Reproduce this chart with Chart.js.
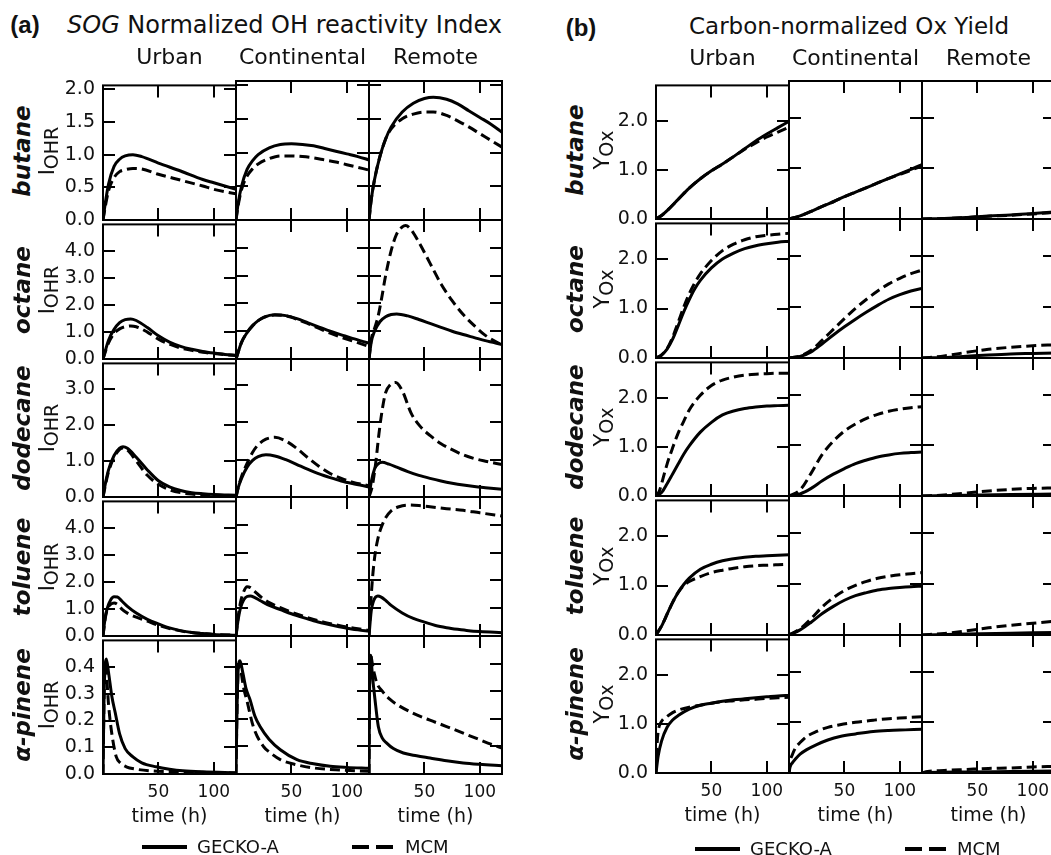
<!DOCTYPE html>
<html><head><meta charset="utf-8">
<script src="https://cdn.jsdelivr.net/npm/chart.js@4.4.1/dist/chart.umd.min.js"></script>
<style>
html,body{margin:0;padding:0;background:#fff;width:1051px;height:855px;overflow:hidden;}
body{position:relative;font-family:"DejaVu Sans",sans-serif;color:#111;}
.t{position:absolute;white-space:nowrap;line-height:1;}
canvas{position:absolute;}
</style></head><body>
<script>
// ---------------- DATA ----------------
const species = ['butane','octane','dodecane','toluene','α-pinene'];
const regimes = ['Urban','Continental','Remote'];
const models = ['GECKO-A','MCM'];
const timeMax = 120;
const timeTicks = [50,100];
const ohrYMax = [2.06,5,3.7,5,0.5];
const ohrYTicks = [[0,0.5,1,1.5,2],[0,1,2,3,4],[0,1,2,3],[0,1,2,3,4],[0,0.1,0.2,0.3,0.4]];
const oxYMax = 2.72;
const oxYTicks = [0,1,2];

// (a) SOG normalized OH reactivity index  [time h, value]
const OHR_butane_urban_GECKO = [[0,0],[2,0.25],[5,0.55],[10,0.82],[15,0.93],[20,0.98],[27,1.0],[35,0.97],[50,0.87],[70,0.75],[90,0.62],[100,0.57],[120,0.47]];
const OHR_butane_urban_MCM = [[0,0],[2,0.2],[5,0.45],[10,0.65],[15,0.74],[20,0.77],[27,0.79],[35,0.78],[50,0.7],[70,0.61],[90,0.52],[100,0.47],[120,0.4]];
const OHR_butane_cont_GECKO = [[0,0],[2,0.25],[5,0.5],[10,0.75],[15,0.88],[20,0.97],[30,1.07],[40,1.12],[50,1.13],[60,1.12],[70,1.1],[80,1.06],[90,1.02],[100,0.98],[110,0.94],[120,0.89]];
const OHR_butane_cont_MCM = [[0,0],[2,0.22],[5,0.45],[10,0.65],[15,0.76],[20,0.83],[30,0.91],[40,0.95],[50,0.95],[60,0.94],[70,0.92],[80,0.89],[90,0.86],[100,0.82],[110,0.78],[120,0.74]];
const OHR_butane_remote_GECKO = [[0,0],[2,0.3],[5,0.6],[10,0.95],[15,1.2],[20,1.38],[30,1.6],[40,1.73],[50,1.8],[58,1.82],[70,1.79],[80,1.72],[90,1.62],[100,1.52],[110,1.42],[120,1.3]];
const OHR_butane_remote_MCM = [[0,0],[2,0.3],[5,0.6],[10,0.95],[15,1.2],[20,1.35],[30,1.5],[40,1.57],[50,1.6],[58,1.6],[70,1.55],[80,1.47],[90,1.38],[100,1.28],[110,1.18],[120,1.08]];

const OHR_octane_urban_GECKO = [[0,0],[5,0.7],[10,1.1],[15,1.35],[20,1.46],[25,1.49],[30,1.43],[40,1.17],[50,0.86],[60,0.63],[70,0.47],[80,0.36],[90,0.28],[100,0.22],[110,0.17],[120,0.14]];
const OHR_octane_urban_MCM = [[0,0],[5,0.6],[10,0.95],[15,1.12],[20,1.2],[25,1.23],[30,1.2],[40,1.0],[50,0.74],[60,0.55],[70,0.41],[80,0.32],[90,0.25],[100,0.2],[110,0.16],[120,0.13]];
const OHR_octane_cont_GECKO = [[0,0],[5,0.6],[10,0.95],[15,1.2],[20,1.38],[25,1.5],[35,1.59],[45,1.56],[55,1.45],[65,1.3],[75,1.15],[85,1.0],[95,0.87],[105,0.74],[120,0.57]];
const OHR_octane_cont_MCM = [[0,0],[5,0.6],[10,0.95],[15,1.2],[20,1.38],[25,1.5],[35,1.58],[45,1.55],[55,1.43],[65,1.27],[75,1.1],[85,0.93],[95,0.78],[105,0.65],[120,0.45]];
const OHR_octane_remote_GECKO = [[0,0],[2,0.6],[5,1.0],[10,1.35],[15,1.52],[20,1.6],[25,1.62],[35,1.55],[45,1.42],[55,1.28],[65,1.14],[75,1.0],[85,0.88],[95,0.77],[105,0.66],[120,0.52]];
const OHR_octane_remote_MCM = [[0,0],[2,0.7],[5,1.1],[8,1.5],[11,2.1],[15,3.0],[20,3.9],[25,4.5],[30,4.75],[33,4.8],[38,4.65],[45,4.2],[55,3.45],[65,2.7],[75,2.1],[85,1.6],[95,1.2],[105,0.85],[120,0.5]];

const OHR_dodecane_urban_GECKO = [[0,0],[2,0.35],[5,0.75],[10,1.15],[15,1.35],[18,1.39],[22,1.35],[30,1.1],[40,0.75],[50,0.45],[60,0.28],[70,0.18],[80,0.12],[90,0.09],[100,0.07],[120,0.05]];
const OHR_dodecane_urban_MCM = [[0,0],[2,0.3],[5,0.7],[10,1.1],[15,1.32],[18,1.36],[22,1.3],[30,1.0],[40,0.6],[50,0.35],[60,0.2],[70,0.12],[80,0.08],[90,0.06],[100,0.05],[120,0.04]];
const OHR_dodecane_cont_GECKO = [[0,0],[2,0.25],[5,0.5],[10,0.8],[15,0.98],[20,1.08],[27,1.13],[35,1.1],[45,1.0],[55,0.87],[65,0.74],[75,0.62],[85,0.52],[95,0.43],[105,0.36],[120,0.27]];
const OHR_dodecane_cont_MCM = [[0,0],[2,0.25],[5,0.55],[10,0.9],[15,1.2],[20,1.4],[27,1.55],[35,1.6],[45,1.5],[55,1.3],[65,1.05],[75,0.82],[85,0.63],[95,0.5],[105,0.4],[120,0.3]];
const OHR_dodecane_remote_GECKO = [[0,0],[2,0.4],[5,0.75],[8,0.88],[12,0.93],[18,0.88],[25,0.8],[35,0.68],[45,0.58],[55,0.5],[65,0.43],[75,0.37],[85,0.32],[95,0.28],[105,0.25],[120,0.21]];
const OHR_dodecane_remote_MCM = [[0,0],[3,0.3],[6,0.9],[9,1.7],[12,2.35],[15,2.8],[19,3.0],[24,3.07],[30,2.85],[38,2.25],[46,1.9],[55,1.65],[65,1.43],[75,1.27],[85,1.13],[95,1.03],[105,0.96],[120,0.87]];

const OHR_toluene_urban_GECKO = [[0,0],[2,0.7],[4,1.05],[7,1.35],[10,1.46],[13,1.45],[17,1.3],[22,1.1],[30,0.85],[40,0.62],[50,0.45],[60,0.3],[70,0.2],[80,0.13],[90,0.09],[100,0.06],[120,0.03]];
const OHR_toluene_urban_MCM = [[0,0],[2,0.65],[4,1.0],[7,1.18],[10,1.23],[13,1.18],[17,1.0],[22,0.85],[30,0.7],[40,0.55],[50,0.4],[60,0.28],[70,0.19],[80,0.13],[90,0.09],[100,0.06],[120,0.03]];
const OHR_toluene_cont_GECKO = [[0,0],[2,0.6],[4,1.0],[7,1.3],[10,1.42],[13,1.44],[17,1.38],[22,1.27],[30,1.1],[40,0.95],[50,0.8],[60,0.67],[70,0.55],[80,0.45],[90,0.36],[100,0.28],[110,0.22],[120,0.17]];
const OHR_toluene_cont_MCM = [[0,0],[2,0.7],[4,1.2],[7,1.6],[10,1.77],[13,1.74],[17,1.6],[22,1.42],[30,1.2],[40,1.02],[50,0.86],[60,0.72],[70,0.6],[80,0.49],[90,0.4],[100,0.32],[110,0.26],[120,0.2]];
const OHR_toluene_remote_GECKO = [[0,0],[2,0.9],[4,1.25],[6,1.4],[8,1.44],[11,1.4],[15,1.28],[20,1.1],[30,0.83],[40,0.63],[50,0.5],[60,0.38],[70,0.3],[80,0.24],[90,0.19],[100,0.16],[120,0.12]];
const OHR_toluene_remote_MCM = [[0,0],[1,0.8],[3,2.0],[5,2.8],[8,3.5],[11,3.9],[15,4.25],[20,4.5],[27,4.65],[35,4.71],[45,4.69],[55,4.65],[70,4.58],[85,4.52],[100,4.43],[120,4.32]];

const OHR_apinene_urban_GECKO = [[0,0],[1,0.3],[2,0.41],[3,0.43],[5,0.38],[8,0.29],[11,0.23],[15,0.15],[20,0.095],[27,0.064],[35,0.042],[48,0.027],[60,0.018],[72,0.012],[90,0.008],[120,0.005]];
const OHR_apinene_urban_MCM = [[0,0],[1,0.3],[2,0.4],[3,0.38],[5,0.26],[8,0.15],[12,0.064],[16,0.04],[21,0.027],[30,0.018],[42,0.012],[60,0.009],[90,0.006],[120,0.004]];
const OHR_apinene_cont_GECKO = [[0,0],[1,0.25],[2,0.38],[3.6,0.41],[6,0.37],[9,0.31],[12.6,0.27],[17,0.21],[21.7,0.172],[30,0.125],[40,0.088],[55,0.052],[70,0.037],[85,0.028],[100,0.024],[120,0.021]];
const OHR_apinene_cont_MCM = [[0,0],[1,0.25],[2,0.38],[3,0.4],[5,0.36],[7,0.31],[9.6,0.27],[15.6,0.172],[24.7,0.1],[30,0.08],[40,0.052],[55,0.033],[70,0.022],[90,0.015],[120,0.01]];
const OHR_apinene_remote_GECKO = [[0,0],[0.5,0.3],[1.5,0.43],[3,0.36],[5.4,0.27],[8.4,0.172],[12,0.13],[16,0.112],[22,0.092],[31,0.076],[43,0.066],[55,0.058],[70,0.048],[85,0.04],[100,0.035],[120,0.03]];
const OHR_apinene_remote_MCM = [[0,0],[0.5,0.3],[1.5,0.43],[3,0.4],[5,0.36],[7,0.33],[12,0.3],[19,0.27],[28,0.245],[40,0.22],[55,0.195],[70,0.172],[85,0.148],[100,0.124],[110,0.108],[120,0.094]];

// (b) Carbon-normalized Ox yield  [time h, value]
const OX_butane_urban_GECKO = [[0,0],[5,0.07],[10,0.17],[20,0.4],[30,0.63],[40,0.82],[50,0.98],[60,1.12],[70,1.27],[80,1.43],[90,1.59],[100,1.73],[110,1.86],[120,1.99]];
const OX_butane_urban_MCM = [[0,0],[5,0.07],[10,0.17],[20,0.4],[30,0.63],[40,0.82],[50,0.98],[60,1.12],[70,1.27],[80,1.42],[90,1.55],[100,1.67],[110,1.77],[120,1.87]];
const OX_butane_cont_GECKO = [[0,0],[10,0.06],[20,0.15],[30,0.25],[40,0.34],[50,0.44],[60,0.53],[70,0.62],[80,0.71],[90,0.8],[100,0.89],[110,0.98],[120,1.07]];
const OX_butane_cont_MCM = [[0,0],[10,0.06],[20,0.15],[30,0.25],[40,0.34],[50,0.44],[60,0.53],[70,0.62],[80,0.71],[90,0.8],[100,0.88],[110,0.96],[120,1.05]];
const OX_butane_remote_GECKO = [[0,0],[20,0.01],[40,0.03],[60,0.06],[80,0.08],[100,0.11],[120,0.14]];
const OX_butane_remote_MCM = [[0,0],[20,0.01],[40,0.03],[60,0.055],[80,0.075],[100,0.1],[120,0.13]];

const OX_octane_urban_GECKO = [[0,0],[5,0.06],[10,0.18],[15,0.38],[20,0.65],[25,0.93],[30,1.18],[35,1.4],[40,1.57],[50,1.82],[60,2.0],[70,2.12],[80,2.21],[90,2.27],[100,2.31],[110,2.34],[120,2.36]];
const OX_octane_urban_MCM = [[0,0],[5,0.06],[10,0.19],[15,0.42],[20,0.72],[25,1.03],[30,1.3],[35,1.52],[40,1.7],[50,1.97],[60,2.17],[70,2.3],[80,2.39],[90,2.45],[100,2.48],[110,2.5],[120,2.52]];
const OX_octane_cont_GECKO = [[0,0],[10,0.03],[20,0.12],[30,0.28],[40,0.45],[50,0.61],[60,0.76],[70,0.9],[80,1.03],[90,1.15],[100,1.24],[110,1.31],[120,1.36]];
const OX_octane_cont_MCM = [[0,0],[10,0.04],[20,0.15],[30,0.35],[40,0.56],[50,0.77],[60,0.97],[70,1.15],[80,1.31],[90,1.45],[100,1.56],[110,1.65],[120,1.72]];
const OX_octane_remote_GECKO = [[0,0],[20,0.01],[40,0.035],[60,0.06],[80,0.08],[100,0.09],[120,0.1]];
const OX_octane_remote_MCM = [[0,0],[20,0.04],[40,0.11],[60,0.17],[80,0.21],[100,0.24],[120,0.26]];

const OX_dodecane_urban_GECKO = [[0,0],[5,0.07],[10,0.25],[15,0.45],[20,0.65],[25,0.85],[30,1.02],[40,1.3],[50,1.5],[60,1.65],[70,1.73],[80,1.78],[90,1.81],[100,1.83],[110,1.84],[120,1.85]];
const OX_dodecane_urban_MCM = [[0,0],[3,0.1],[6,0.33],[10,0.65],[15,0.98],[20,1.28],[25,1.52],[30,1.75],[40,2.05],[50,2.25],[60,2.36],[70,2.42],[80,2.46],[90,2.48],[100,2.49],[110,2.5],[120,2.5]];
const OX_dodecane_cont_GECKO = [[0,0],[10,0.04],[20,0.15],[30,0.3],[40,0.43],[50,0.54],[60,0.64],[70,0.71],[80,0.77],[90,0.81],[100,0.84],[110,0.855],[120,0.865]];
const OX_dodecane_cont_MCM = [[0,0],[10,0.12],[20,0.45],[30,0.82],[40,1.08],[50,1.28],[60,1.42],[70,1.53],[80,1.61],[90,1.67],[100,1.71],[110,1.74],[120,1.76]];
const OX_dodecane_remote_GECKO = [[0,0],[40,0.015],[80,0.03],[120,0.04]];
const OX_dodecane_remote_MCM = [[0,0],[20,0.02],[40,0.06],[60,0.1],[80,0.13],[100,0.15],[120,0.16]];

const OX_toluene_urban_GECKO = [[0,0],[5,0.18],[10,0.42],[15,0.66],[20,0.86],[25,1.02],[30,1.15],[40,1.33],[50,1.43],[60,1.5],[70,1.54],[80,1.57],[90,1.59],[100,1.6],[110,1.61],[120,1.62]];
const OX_toluene_urban_MCM = [[0,0],[5,0.18],[10,0.42],[15,0.66],[20,0.86],[25,1.0],[30,1.08],[40,1.18],[50,1.26],[60,1.31],[70,1.35],[80,1.38],[90,1.4],[100,1.41],[110,1.42],[120,1.43]];
const OX_toluene_cont_GECKO = [[0,0],[10,0.1],[20,0.25],[30,0.42],[40,0.56],[50,0.68],[60,0.77],[70,0.83],[80,0.88],[90,0.91],[100,0.93],[110,0.945],[120,0.955]];
const OX_toluene_cont_MCM = [[0,0],[10,0.12],[20,0.32],[30,0.55],[40,0.73],[50,0.87],[60,0.97],[70,1.05],[80,1.11],[90,1.15],[100,1.18],[110,1.2],[120,1.22]];
const OX_toluene_remote_GECKO = [[0,0],[40,0.02],[80,0.035],[120,0.05]];
const OX_toluene_remote_MCM = [[0,0],[20,0.03],[40,0.08],[60,0.14],[80,0.19],[100,0.23],[120,0.27]];

const OX_apinene_urban_GECKO = [[0,0],[2,0.35],[5,0.65],[10,0.93],[15,1.08],[20,1.17],[30,1.3],[40,1.38],[50,1.42],[60,1.46],[70,1.49],[80,1.51],[90,1.53],[100,1.55],[110,1.57],[120,1.58]];
const OX_apinene_urban_MCM = [[0,0],[1,0.6],[2,0.85],[5,1.05],[10,1.15],[15,1.23],[20,1.28],[30,1.34],[40,1.38],[50,1.42],[60,1.45],[70,1.47],[80,1.49],[90,1.5],[100,1.52],[110,1.53],[120,1.54]];
const OX_apinene_cont_GECKO = [[0,0],[1,0.12],[3,0.2],[6,0.28],[10,0.37],[16,0.46],[25,0.56],[35,0.65],[46,0.72],[60,0.77],[76,0.82],[90,0.84],[105,0.85],[120,0.86]];
const OX_apinene_cont_MCM = [[0,0],[1,0.22],[3,0.36],[6,0.5],[10,0.6],[16,0.72],[25,0.82],[35,0.9],[46,0.95],[60,1.0],[76,1.04],[90,1.07],[105,1.09],[120,1.11]];
const OX_apinene_remote_GECKO = [[0,0],[5,0.01],[40,0.02],[80,0.03],[120,0.04]];
const OX_apinene_remote_MCM = [[0,0],[5,0.03],[20,0.05],[40,0.07],[60,0.09],[80,0.1],[100,0.12],[120,0.13]];

// tables built from the arrays above: [species][regime] -> [GECKO, MCM]
const OHR = [
  [[OHR_butane_urban_GECKO,OHR_butane_urban_MCM],[OHR_butane_cont_GECKO,OHR_butane_cont_MCM],[OHR_butane_remote_GECKO,OHR_butane_remote_MCM]],
  [[OHR_octane_urban_GECKO,OHR_octane_urban_MCM],[OHR_octane_cont_GECKO,OHR_octane_cont_MCM],[OHR_octane_remote_GECKO,OHR_octane_remote_MCM]],
  [[OHR_dodecane_urban_GECKO,OHR_dodecane_urban_MCM],[OHR_dodecane_cont_GECKO,OHR_dodecane_cont_MCM],[OHR_dodecane_remote_GECKO,OHR_dodecane_remote_MCM]],
  [[OHR_toluene_urban_GECKO,OHR_toluene_urban_MCM],[OHR_toluene_cont_GECKO,OHR_toluene_cont_MCM],[OHR_toluene_remote_GECKO,OHR_toluene_remote_MCM]],
  [[OHR_apinene_urban_GECKO,OHR_apinene_urban_MCM],[OHR_apinene_cont_GECKO,OHR_apinene_cont_MCM],[OHR_apinene_remote_GECKO,OHR_apinene_remote_MCM]]
];
const OX = [
  [[OX_butane_urban_GECKO,OX_butane_urban_MCM],[OX_butane_cont_GECKO,OX_butane_cont_MCM],[OX_butane_remote_GECKO,OX_butane_remote_MCM]],
  [[OX_octane_urban_GECKO,OX_octane_urban_MCM],[OX_octane_cont_GECKO,OX_octane_cont_MCM],[OX_octane_remote_GECKO,OX_octane_remote_MCM]],
  [[OX_dodecane_urban_GECKO,OX_dodecane_urban_MCM],[OX_dodecane_cont_GECKO,OX_dodecane_cont_MCM],[OX_dodecane_remote_GECKO,OX_dodecane_remote_MCM]],
  [[OX_toluene_urban_GECKO,OX_toluene_urban_MCM],[OX_toluene_cont_GECKO,OX_toluene_cont_MCM],[OX_toluene_remote_GECKO,OX_toluene_remote_MCM]],
  [[OX_apinene_urban_GECKO,OX_apinene_urban_MCM],[OX_apinene_cont_GECKO,OX_apinene_cont_MCM],[OX_apinene_remote_GECKO,OX_apinene_remote_MCM]]
];

// ---------------- LAYOUT / STYLE ----------------
const FONT = '"DejaVu Sans", sans-serif';
const INK = '#111';
const PAD_L = 60, PAD_T = 15, PAD_R = 10, PAD_B = 70;
const panels = [
  {table:OHR, yMax:(r)=>ohrYMax[r], yTicks:(r)=>ohrYTicks[r], colLefts:[103,236,369], colW:133, rowEdges:[81,220,359,497,636,774]},
  {table:OX,  yMax:()=>oxYMax,      yTicks:()=>oxYTicks,      colLefts:[656,789,922], colW:133, rowEdges:[81,219,358,496,635,773]}
];

const frameTicks = {
  id:'frameTicks',
  afterDatasetsDraw(chart){
    const {ctx, chartArea:{left,right,top,bottom}, scales:{x,y}} = chart;
    const L = 12;
    ctx.save();
    ctx.strokeStyle = '#000';
    ctx.lineWidth = 2;
    ctx.beginPath();
    x.ticks.forEach(t=>{
      const px = Math.round(x.getPixelForValue(t.value));
      ctx.moveTo(px,bottom); ctx.lineTo(px,bottom-L);
      ctx.moveTo(px,top); ctx.lineTo(px,top+L);
    });
    y.ticks.forEach(t=>{
      const py = Math.round(y.getPixelForValue(t.value));
      ctx.moveTo(left,py); ctx.lineTo(left+L,py);
      ctx.moveTo(right,py); ctx.lineTo(right-L,py);
    });
    ctx.stroke();
    ctx.strokeRect(left,top,right-left,bottom-top);
    ctx.restore();
  }
};

function makeChart(p, r, c){
  const left = p.colLefts[c], top = p.rowEdges[r], h = p.rowEdges[r+1]-p.rowEdges[r];
  const isLeft = c===0, isBottom = r===species.length-1;
  const cv = document.createElement('canvas');
  cv.width = PAD_L + p.colW + PAD_R;
  cv.height = PAD_T + h + PAD_B;
  cv.style.left = (left-PAD_L)+'px';
  cv.style.top = (top-PAD_T)+'px';
  document.body.appendChild(cv);
  const [g,m] = p.table[r][c];
  const yt = p.yTicks(r);
  const ds = (arr, label, dash) => ({
    label, data: arr.map(([x,y])=>({x,y})),
    borderColor:'#000', borderWidth:3, borderDash:dash, pointRadius:0,
    cubicInterpolationMode:'monotone', fill:false, borderCapStyle:'butt'
  });
  new Chart(cv, {
    type:'line',
    data:{datasets:[ds(g,models[0],[]), ds(m,models[1],[10,5])]},
    options:{
      responsive:false, animation:false, devicePixelRatio:1,
      layout:{padding:{left:0,top:PAD_T,right:PAD_R,bottom:0}},
      plugins:{legend:{display:false}, tooltip:{enabled:false}},
      scales:{
        x:{type:'linear', min:0, max:timeMax,
          grid:{display:false, drawTicks:false}, border:{display:false},
          afterBuildTicks:s=>{s.ticks = timeTicks.map(v=>({value:v}));},
          afterFit:s=>{s.height = PAD_B;},
          ticks:{display:isBottom, padding:8, autoSkip:false, maxRotation:0, color:INK,
                 font:{family:FONT, size:17}, callback:v=>String(v)},
          title:{display:isBottom, text:'time (h)', color:INK, font:{family:FONT, size:19},
                 padding:{top:0,bottom:16}}
        },
        y:{type:'linear', min:0, max:p.yMax(r),
          grid:{display:false, drawTicks:false}, border:{display:false},
          afterBuildTicks:s=>{s.ticks = yt.map(v=>({value:v}));},
          afterFit:s=>{s.width = PAD_L;},
          ticks:{display:isLeft, padding:8, autoSkip:false, color:INK,
                 font:{family:FONT, size:19}, callback:v=>Number(v).toFixed(1)}
        }
      }
    },
    plugins:[frameTicks]
  });
}

panels.forEach(p=>{
  for(let r=0;r<species.length;r++) for(let c=0;c<regimes.length;c++) makeChart(p,r,c);
});

// ---------------- TEXT ----------------
function txt(html, x, y, css, opt){
  opt = opt||{};
  const d = document.createElement('div');
  d.className = 't';
  d.innerHTML = html;
  Object.assign(d.style, css||{});
  d.style.left = x+'px'; d.style.top = y+'px';
  const ax = opt.align==='left' ? '0' : '-50%';
  d.style.transform = `translate(${ax},-50%)` + (opt.rot ? ' rotate(-90deg)' : '');
  document.body.appendChild(d);
  return d;
}
// panel titles
txt('(a)', 25, 25, {fontFamily:'"Liberation Sans",sans-serif', fontWeight:'bold', fontSize:'24px'});
txt('<i>SOG</i> Normalized OH reactivity Index', 67, 25, {fontSize:'24px'}, {align:'left'});
txt('(b)', 581, 28, {fontFamily:'"Liberation Sans",sans-serif', fontWeight:'bold', fontSize:'24px'});
txt('Carbon-normalized Ox Yield', 689, 26, {fontSize:'23px'}, {align:'left'});
// column headers
panels.forEach((p,pi)=>{
  regimes.forEach((name,c)=>{
    txt(name, p.colLefts[c]+p.colW/2, pi===0?57:58, {fontSize:'22px'});
  });
});
// row labels
const unitHTML = [
  'I<span style="font-size:19px;position:relative;top:4px">OHR</span>',
  'Y<span style="font-size:19px;position:relative;top:4px">Ox</span>'
];
const specX = [22, 575], unitX = [47, 602];
panels.forEach((p,pi)=>{
  species.forEach((s,r)=>{
    const cy = (p.rowEdges[r]+p.rowEdges[r+1])/2;
    txt(s, specX[pi], cy, {fontSize:'23px', fontWeight:'bold', fontStyle:'italic'}, {rot:true});
    txt(unitHTML[pi], unitX[pi], cy, {fontSize:'21px'}, {rot:true});
  });
});
// legends
function legend(xSolid, xText1, xDash, xText2, y){
  const s = document.createElement('div');
  Object.assign(s.style,{position:'absolute', left:xSolid+'px', top:(y-2)+'px', width:'45px', height:'4px', background:'#000'});
  document.body.appendChild(s);
  const d = document.createElement('div');
  Object.assign(d.style,{position:'absolute', left:xDash+'px', top:(y-2)+'px', width:'41px', height:'4px',
    background:'repeating-linear-gradient(to right,#000 0 17px,transparent 17px 24px)'});
  document.body.appendChild(d);
  txt(models[0], xText1, y, {fontSize:'18px'}, {align:'left'});
  txt(models[1], xText2, y, {fontSize:'18px'}, {align:'left'});
}
legend(142, 197, 352, 405, 847);
legend(695, 750, 905, 957, 849);
</script>
</body></html>
